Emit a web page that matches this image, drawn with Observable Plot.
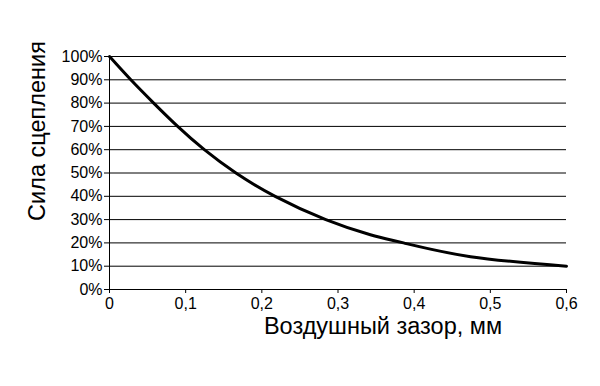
<!DOCTYPE html>
<html>
<head>
<meta charset="utf-8">
<script src="https://cdn.jsdelivr.net/npm/d3@7"></script>
<script src="https://cdn.jsdelivr.net/npm/@observablehq/plot@0.6"></script>
<style>
  html, body { margin: 0; padding: 0; background: #fff; }
  #chart { width: 600px; height: 386px; }
</style>
</head>
<body>
<div id="chart"></div>
<script>
// Air gap, mm
const gap = [0, 0.028, 0.058, 0.0895, 0.1245, 0.166, 0.2175, 0.284, 0.3425, 0.386, 0.474, 0.6];
// Adhesion force, fraction of max
const force = [1.00, 0.90, 0.80, 0.70, 0.60, 0.50, 0.40, 0.30, 0.235, 0.20, 0.141, 0.10];

const xTicks = [0, 0.1, 0.2, 0.3, 0.4, 0.5, 0.6];
const yTicks = [0, 0.1, 0.2, 0.3, 0.4, 0.5, 0.6, 0.7, 0.8, 0.9, 1.0];
const xTitle = "Воздушный зазор, мм";
const yTitle = "Сила сцепления";

const data = gap.map((g, i) => ({gap: g, force: force[i]}));

const chart = Plot.plot({
  width: 600,
  height: 386,
  marginTop: 56,
  marginRight: 34,
  marginBottom: 97,
  marginLeft: 109,
  style: {fontFamily: "'Liberation Sans', Arial, sans-serif", fontSize: "16px", color: "#000", background: "#fff"},
  x: {domain: [0, 0.6]},
  y: {domain: [0, 1]},
  marks: [
    Plot.ruleY(yTicks, {stroke: "#000", strokeWidth: 1}),
    Plot.ruleX([0], {stroke: "#000", strokeWidth: 1}),
    Plot.axisY({
      ticks: yTicks, tickSize: 5, tickPadding: 2,
      tickFormat: d => Math.round(d * 100) + "%",
      label: null, fontSize: 16
    }),
    Plot.axisX({
      ticks: xTicks, tickSize: 4, tickPadding: 4,
      tickFormat: d => d === 0 ? "0" : d.toFixed(1).replace(".", ","),
      label: null, fontSize: 16
    }),
    Plot.line(data, {x: "gap", y: "force", curve: "natural", stroke: "#000", strokeWidth: 3}),
    Plot.text([yTitle], {frameAnchor: "left", textAnchor: "middle", lineAnchor: "middle", rotate: -90, dx: -72, dy: -42, fontSize: 23.5, fill: "#000"}),
    Plot.text([xTitle], {frameAnchor: "bottom", textAnchor: "middle", lineAnchor: "middle", dx: 45, dy: 37, fontSize: 23.5, fill: "#000"})
  ]
});
document.getElementById("chart").appendChild(chart);
</script>
</body>
</html>
